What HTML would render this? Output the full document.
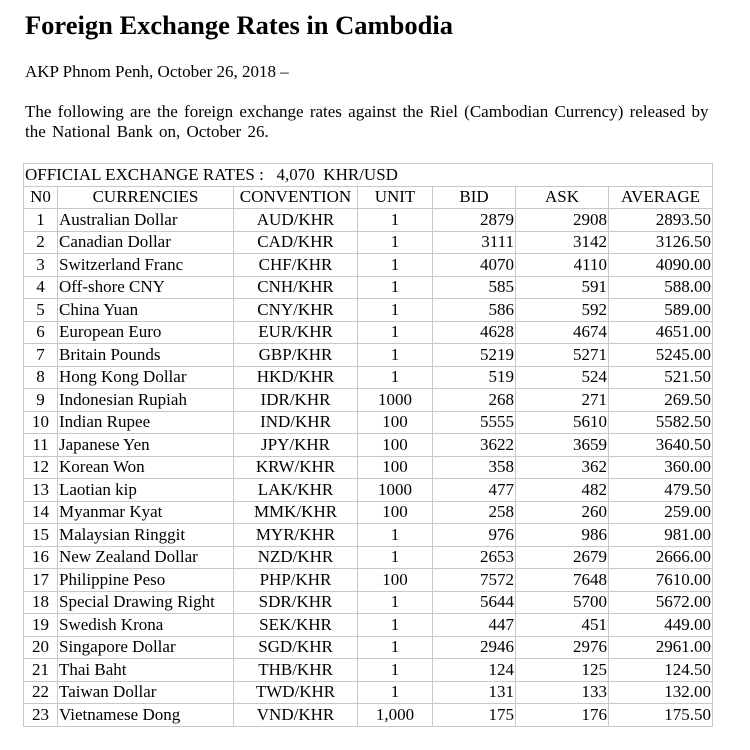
<!DOCTYPE html>
<html><head><meta charset="utf-8">
<style>
body{margin:0;width:750px;height:750px;background:#fff;font-family:"Liberation Serif",serif;color:#000;position:relative;overflow:hidden}
h1{position:absolute;left:25px;top:9px;margin:0;font-size:26.5px;line-height:32px;font-weight:bold;white-space:nowrap}
.p{position:absolute;left:25px;margin:0;font-size:17px;line-height:20px}
table{position:absolute;left:23px;top:163px;border-collapse:collapse;table-layout:fixed;font-size:17px;border:1px solid #c8c8c8}
td{border:1px solid #c8c8c8;height:21.5px;padding:0 1px;line-height:20px;white-space:nowrap;overflow:hidden}
.c{text-align:center}.r{text-align:right}
</style></head><body>
<h1>Foreign Exchange Rates in Cambodia</h1>
<p class="p" style="top:62px">AKP Phnom Penh, October 26, 2018 –</p>
<p class="p" style="top:102px;width:692px;word-spacing:2px">The following are the foreign exchange rates against the Riel (Cambodian Currency) released by the National Bank on, October 26.</p>
<table>
<colgroup><col style="width:34px"><col style="width:176px"><col style="width:124px"><col style="width:75px"><col style="width:83px"><col style="width:93px"><col style="width:104px"></colgroup>
<tr><td colspan="7">OFFICIAL EXCHANGE RATES :&nbsp;&nbsp; 4,070&nbsp; KHR/USD</td></tr>
<tr><td class="c">N0</td><td class="c">CURRENCIES</td><td class="c">CONVENTION</td><td class="c">UNIT</td><td class="c">BID</td><td class="c">ASK</td><td class="c">AVERAGE</td></tr>
<tbody id="tb"></tbody>
</table>
<script>
const names=["Australian Dollar","Canadian Dollar","Switzerland Franc","Off-shore CNY","China Yuan","European Euro","Britain Pounds","Hong Kong Dollar","Indonesian Rupiah","Indian Rupee","Japanese Yen","Korean Won","Laotian kip","Myanmar Kyat","Malaysian Ringgit","New Zealand Dollar","Philippine Peso","Special Drawing Right","Swedish Krona","Singapore Dollar","Thai Baht","Taiwan Dollar","Vietnamese Dong"];
const codes=["AUD","CAD","CHF","CNH","CNY","EUR","GBP","HKD","IDR","IND","JPY","KRW","LAK","MMK","MYR","NZD","PHP","SDR","SEK","SGD","THB","TWD","VND"];
const units=["1","1","1","1","1","1","1","1","1000","100","100","100","1000","100","1","1","100","1","1","1","1","1","1,000"];
const bids=[2879,3111,4070,585,586,4628,5219,519,268,5555,3622,358,477,258,976,2653,7572,5644,447,2946,124,131,175];
const asks=[2908,3142,4110,591,592,4674,5271,524,271,5610,3659,362,482,260,986,2679,7648,5700,451,2976,125,133,176];
const avgs=["2893.50","3126.50","4090.00","588.00","589.00","4651.00","5245.00","521.50","269.50","5582.50","3640.50","360.00","479.50","259.00","981.00","2666.00","7610.00","5672.00","449.00","2961.00","124.50","132.00","175.50"];
const tb=document.getElementById('tb');
names.forEach((n,i)=>{
const tr=document.createElement('tr');


const cells=[[String(i+1),'c'],[n,''],[codes[i]+'/KHR','c'],[units[i],'c'],[String(bids[i]),'r'],[String(asks[i]),'r'],[avgs[i],'r']];
cells.forEach(([t,cl])=>{const td=document.createElement('td');td.textContent=t;if(cl)td.className=cl;tr.appendChild(td);});
tb.appendChild(tr);
});
</script>
</body></html>
